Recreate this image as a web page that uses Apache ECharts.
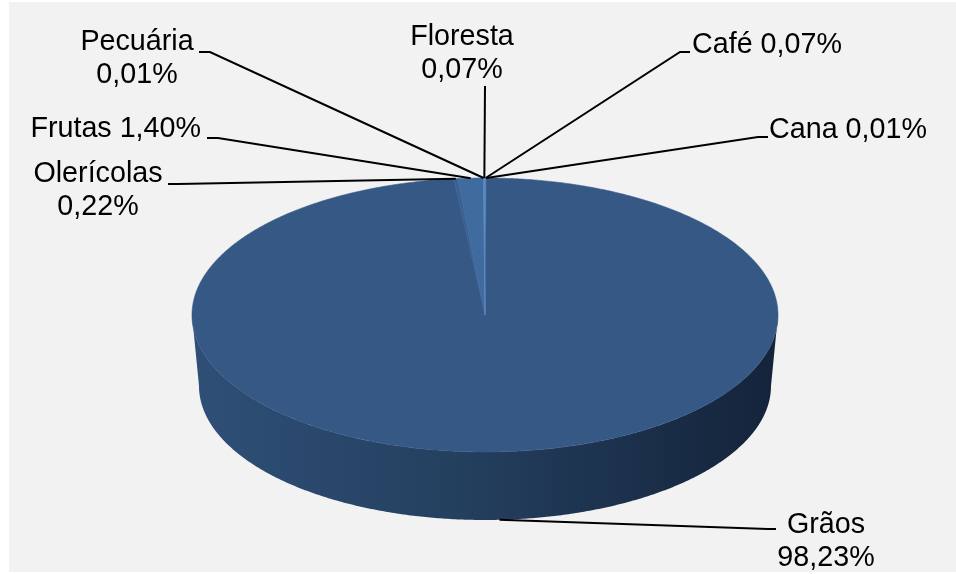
<!DOCTYPE html>
<html>
<head>
<meta charset="utf-8">
<script src="https://cdn.jsdelivr.net/npm/echarts@6/dist/echarts.min.js"></script>
<style>
  html, body { margin: 0; padding: 0; background: #ffffff; }
  #chart { width: 956px; height: 574px; }
</style>
</head>
<body>
<div id="chart"></div>
<script>
// Shares by activity, in percent, clockwise from 12 o'clock
const categories = ['Café', 'Cana', 'Grãos', 'Olerícolas', 'Frutas', 'Pecuária', 'Floresta'];
const shares = [0.07, 0.01, 98.23, 0.22, 1.40, 0.01, 0.07];

// Slice fill colours (top face)
const sliceColors = ['#5b8ac2', '#5584bc', '#355884', '#3a6193', '#3f6b9f', '#5584bc', '#5b8ac2'];

// Ellipse of the top face and of the base (slightly smaller: perspective)
const TOP = { cx: 485, cy: 315, rx: 293, ry: 137 };
const BASE = { cx: 485, cy: 386, rx: 286, ry: 134 };

// Label placement: where the text sits and how the leader line bends
const labelLayout = {
  'Café':       { x: 692, y: 45,  align: 'left',   wrap: false, elbow: [680, 52],  end: [690, 52] },
  'Cana':       { x: 769, y: 130, align: 'left',   wrap: false, elbow: [758, 137], end: [768, 137] },
  'Grãos':      { x: 826, y: 542, align: 'center', wrap: true,  elbow: [768, 529], end: [776, 529] },
  'Olerícolas': { x: 98,  y: 191, align: 'center', wrap: true,  elbow: [178, 184], end: [168, 184] },
  'Frutas':     { x: 201, y: 129, align: 'right',  wrap: false, elbow: [218, 138], end: [207, 138] },
  'Pecuária':   { x: 137, y: 59,  align: 'center', wrap: true,  elbow: [210, 52],  end: [199, 52] },
  'Floresta':   { x: 462, y: 54,  align: 'center', wrap: true,  elbow: [485, 86],  end: [485, 86] }
};

const total = shares.reduce((a, b) => a + b, 0);
const startAngles = [];
(function () {
  let acc = 0;
  shares.forEach(v => { startAngles.push(acc / total * 360); acc += v; });
})();

function ellipsePoint(e, deg) {
  const r = deg * Math.PI / 180;
  return [e.cx + e.rx * Math.sin(r), e.cy - e.ry * Math.cos(r)];
}

function arcPoints(e, a, b) {
  const pts = [];
  const n = Math.max(2, Math.ceil(Math.abs(b - a) / 0.5));
  for (let i = 0; i <= n; i++) pts.push(ellipsePoint(e, a + (b - a) * i / n));
  return pts;
}

function sliceAngles(idx, value) {
  const s = startAngles[idx];
  return [s, s + value / total * 360];
}

const sideGradient = new echarts.graphic.LinearGradient(
  TOP.cx - TOP.rx, 0, TOP.cx + TOP.rx, 0,
  [
    { offset: 0, color: '#2f4f77' },
    { offset: 0.45, color: '#24405f' },
    { offset: 1, color: '#14233a' }
  ],
  true
);

function renderSlice(params, api) {
  const idx = params.dataIndex;
  const [s, e] = sliceAngles(idx, api.value(1));
  const children = [];
  // visible wall: front half of the rim (90°..270°)
  const a = Math.max(s, 90), b = Math.min(e, 270);
  if (b > a) {
    const pts = arcPoints(TOP, a, b).concat(arcPoints(BASE, b, a));
    children.push({ type: 'polygon', shape: { points: pts }, style: { fill: sideGradient } });
  }
  const top = [[TOP.cx, TOP.cy]].concat(arcPoints(TOP, s, e));
  children.push({
    type: 'polygon',
    shape: { points: top },
    style: { fill: sliceColors[idx], stroke: sliceColors[idx], lineWidth: 0.6 }
  });
  return { type: 'group', children };
}

function fmt(v) {
  return v.toFixed(2).replace('.', ',') + '%';
}

function renderLabel(params, api) {
  const idx = params.dataIndex;
  const name = categories[idx];
  const value = api.value(1);
  const [s, e] = sliceAngles(idx, value);
  const mid = (s + e) / 2;
  const front = mid > 90 && mid < 270;
  const start = front ? ellipsePoint(BASE, mid) : ellipsePoint(TOP, mid);
  const L = labelLayout[name];
  const text = name + (L.wrap ? '\n' : ' ') + fmt(value);
  return {
    type: 'group',
    children: [
      {
        type: 'polyline',
        shape: { points: [start, L.elbow, L.end] },
        style: { stroke: '#000000', lineWidth: 2, fill: null }
      },
      {
        type: 'text',
        style: {
          text: text,
          x: L.x,
          y: L.y,
          fill: '#000000',
          fontSize: 28.7,
          fontFamily: '"Liberation Sans", Arial, sans-serif',
          align: L.align,
          verticalAlign: 'middle',
          lineHeight: 33
        }
      }
    ]
  };
}

const seriesData = categories.map((c, i) => [i, shares[i]]);

const chart = echarts.init(document.getElementById('chart'), null, { renderer: 'canvas' });
chart.setOption({
  backgroundColor: '#ffffff',
  animation: false,
  graphic: [
    { type: 'rect', z: -10, shape: { x: 9, y: 2, width: 947, height: 570 }, style: { fill: '#f2f2f2' } }
  ],
  series: [
    { type: 'custom', coordinateSystem: 'none', renderItem: renderSlice, data: seriesData, z: 1, silent: true },
    { type: 'custom', coordinateSystem: 'none', renderItem: renderLabel, data: seriesData, z: 2, silent: true }
  ]
});
</script>
</body>
</html>
